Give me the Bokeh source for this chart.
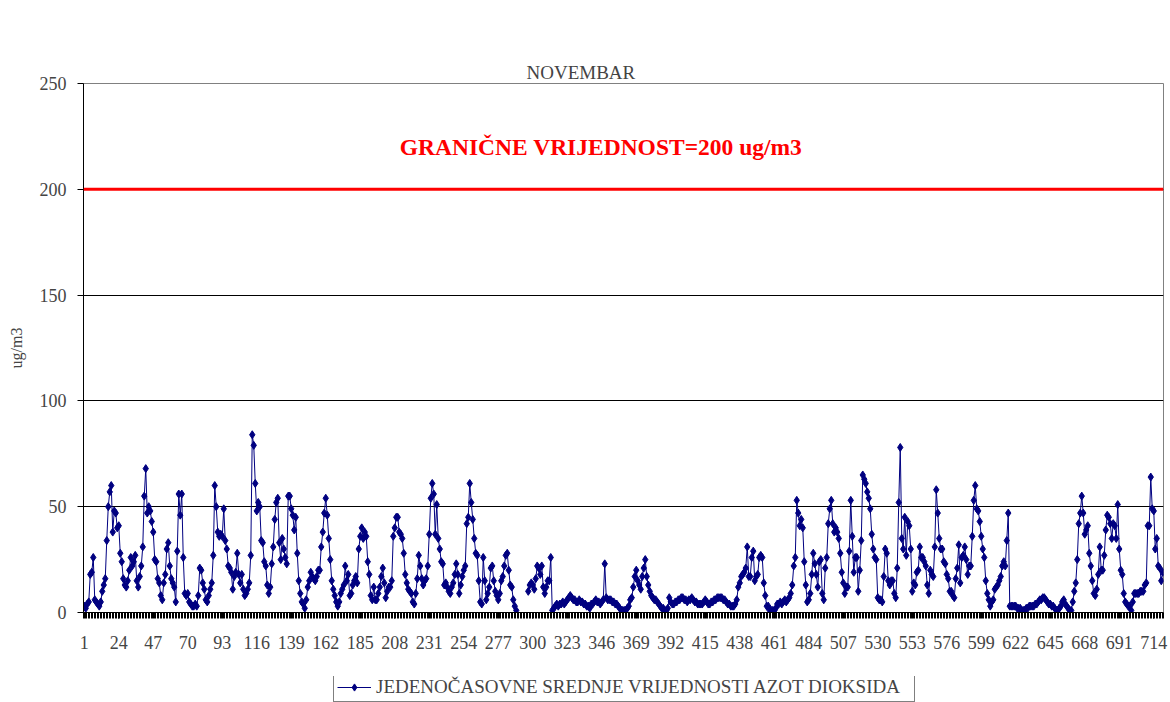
import numpy as np
from bokeh.plotting import figure
from bokeh.layouts import column
from bokeh.models import (Range1d, FixedTicker, Span, Label, Legend, LegendItem,
                          ColumnDataSource, LinearAxis)
from bokeh.embed import file_html
from bokeh.resources import INLINE

title_text = "NOVEMBAR"
series_name = "JEDENOČASOVNE SREDNJE VRIJEDNOSTI AZOT DIOKSIDA"
limit_text = "GRANIČNE VRIJEDNOST=200 ug/m3"
limit_value = 200
y_label = "ug/m3"
y_ticks = [0, 50, 100, 150, 200, 250]
x_tick_labels = [1, 24, 47, 70, 93, 116, 139, 162, 185, 208, 231, 254, 277, 300, 323, 346,
                 369, 392, 415, 438, 461, 484, 507, 530, 553, 576, 599, 622, 645, 668, 691, 714]

# hourly NO2 values for November, one row per day (None = missing hour)
day01 = [3, 2, 4, 5, 18, 19, 26, 6, 5, 4, 3, 5, 10, 13, 16, 34, 50, 57, 60, 38, 48, 47, 40, 41]
day02 = [28, 24, 16, 13, 12, 15, 20, 26, 22, 24, 27, 15, 12, 17, 22, 31, 55, 68, 47, 50, 48, 43, 38, 25]
day03 = [24, 16, 14, 8, 6, 14, 18, 30, 33, 22, 16, 14, 12, 5, 29, 56, 46, 56, 26, 9, 8, 9, 5, 4]
day04 = [3, 3, 4, 3, 8, 21, 20, 14, 11, 6, 5, 8, 11, 14, 27, 60, 50, 38, 36, 37, 36, 49, 34, 30]
day05 = [22, 21, 19, 11, 17, 19, 28, 18, 14, 18, 11, 8, 9, 11, 14, 27, 84, 79, 61, 48, 52, 50, 34, 33]
day06 = [24, 22, 13, 9, 12, 23, 31, 44, 52, 54, 33, 25, 35, 30, 26, 23, 55, 55, 49, 46, 39, 45, 28, 15]
day07 = [9, 5, 4, 2, 6, 12, 15, 19, 17, 16, 15, 17, 20, 20, 31, 38, 47, 54, 46, 35, 25, 15, 11, 8]
day08 = [5, 3, 5, 9, 11, 13, 22, 15, 18, 8, 9, 13, 15, 17, 14, 30, 36, 40, 35, 38, 36, 24, 18, 8]
day09 = [6, 12, 6, 6, 9, 12, 17, 21, 14, 7, 10, 12, 12, 15, 36, 40, 45, 45, 38, 37, 35, 28, 18, 14]
day10 = [11, 10, 9, 5, 4, 9, 16, 27, 22, 16, 13, 15, 16, 22, 37, 54, 61, 56, 37, 51, 35, 30, 24, 23]
day11 = [13, 14, 12, 10, 9, 12, 14, 18, 23, 18, 9, 13, 17, 20, 22, 42, 45, 61, 52, 44, 35, 28, 27, 15]
day12 = [5, 4, 26, 15, 6, 9, 12, 21, 22, 15, 10, 8, 6, 9, 15, 17, 22, 27, 28, 20, 13, 12, 6, 3]
day13 = [1, None, None, None, None, None, None, None, 10, 13, 14, 13, 11, 16, 22, 21, 18, 22, 12, 9, 12, 15, 15, 26]
day14 = [1, 2, 3, 4, 3, 4, 4, 5, 4, 5, 6, 7, 8, 7, 6, 6, 5, 5, 6, 5, 5, 4, 4, 3]
day15 = [3, 2, 4, 4, 5, 6, 5, 5, 4, 5, 6, 23, 7, 6, 6, 6, 5, 5, 4, 4, 3, 2, 1, 1]
day16 = [1, 1, 2, 3, 6, 7, 12, 17, 20, 15, 13, 11, 17, 21, 25, 17, 13, 10, 8, 7, 6, 6, 5, 4]
day17 = [3, 2, 2, 1, 1, 2, 7, 5, 4, 4, 5, 5, 6, 6, 7, 7, 6, 6, 5, 6, 6, 7, 6, 5]
day18 = [5, 4, 4, 4, 4, 5, 6, 5, 4, 4, 5, 5, 6, 6, 7, 7, 7, 7, 6, 6, 5, 4, 4, 3]
day19 = [3, 3, 4, 6, 12, 14, 17, 18, 19, 21, 31, 17, 17, 26, 29, 15, 17, 18, 26, 27, 26, 14, 8, 3]
day20 = [3, 1, 1, 1, 1, 2, 4, 4, 5, 4, 5, 6, 5, 6, 7, 9, 13, 22, 26, 53, 47, 41, 44, 40]
day21 = [24, 13, 5, 6, 9, 18, 28, 23, 18, 12, 24, 25, 9, 6, 21, 26, 42, 49, 53, 42, 38, 40, 38, 35]
day22 = [28, 19, 14, 9, 12, 12, 29, 53, 36, 19, 26, 26, 10, 20, 34, 65, 63, 61, 57, 54, 49, 37, 30, 26]
day23 = [25, 7, 6, 6, 5, 17, 30, 28, 15, 13, 15, 15, 9, 7, 21, 52, 78, 35, 30, 45, 27, 43, 41, 30]
day24 = [10, 14, 13, 19, 20, 31, 26, 26, 24, 22, 13, 9, 20, 18, 17, 31, 58, 47, 35, 30, 30, 24, 23, 18]
day25 = [16, 10, 10, 8, 7, 16, 21, 32, 14, 26, 27, 31, 25, 18, 22, 22, 36, 53, 60, 49, 48, 43, 36, 30]
day26 = [26, 15, 9, 6, 3, 5, 6, 11, 12, 13, 15, 17, 22, 24, 22, 34, 47, 3, 3, 3, 3, 3, 2, 2]
day27 = [2, 1, 1, 1, 2, 2, 3, 3, 3, 3, 4, 4, 5, 6, 6, 7, 7, 6, 5, 4, 4, 3, 3, 2]
day28 = [1, 1, 2, 3, 5, 6, 4, 3, 2, 1, 1, 5, 10, 14, 25, 42, 47, 55, 47, 37, 39, 41, 28, 22]
day29 = [15, 9, 8, 11, 18, 31, 20, 20, 27, 39, 46, 45, 42, 35, 42, 41, 35, 51, 30, 20, 18, 9, 5, 4]
day30 = [3, 3, 1, 5, 9, 9, 9, 9, 10, 10, 10, 13, 14, 41, 41, 64, 49, 48, 30, 35, 22, 21, 15, 19]

days = [day01, day02, day03, day04, day05, day06, day07, day08, day09, day10,
        day11, day12, day13, day14, day15, day16, day17, day18, day19, day20,
        day21, day22, day23, day24, day25, day26, day27, day28, day29, day30]
values = [np.nan if v is None else float(v) for d in days for v in d]
hours = list(range(1, len(values) + 1))

FONT = "Liberation Serif"
NAVY = "#000080"

p = figure(width=1168, height=676,
           x_range=Range1d(0.5, len(values) + 0.5), y_range=Range1d(0, 250),
           output_backend="svg", toolbar_location=None,
           min_border_left=83, min_border_right=5, min_border_top=83, min_border_bottom=64,
           background_fill_color="white", border_fill_color="white")

xa = p.below[0]   # the real x axis
ya = p.left[0]    # the real y axis

# spacer axis on top (no ticks, no line) so that the title sits high above the frame
spacer = LinearAxis(ticker=FixedTicker(ticks=[]), axis_line_color=None,
                    major_tick_line_color="white", minor_tick_line_color=None,
                    major_tick_out=55, major_tick_in=0, minor_tick_out=0, minor_tick_in=0,
                    major_label_standoff=0)
p.add_layout(spacer, "above")

p.title.text = title_text
p.title.text_font = FONT
p.title.text_font_size = "19px"
p.title.text_font_style = "normal"
p.title.align = "left"
p.title.offset = 443
p.title.standoff = 2

p.outline_line_color = "#808080"
p.outline_line_width = 1

# grid
p.xgrid.visible = False
p.ygrid.ticker = FixedTicker(ticks=[t for t in y_ticks if 0 < t < 250])
p.ygrid.grid_line_color = "black"
p.ygrid.grid_line_width = 1

# y axis
ya.ticker = FixedTicker(ticks=y_ticks)
ya.axis_label = y_label
ya.axis_label_text_font = FONT
ya.axis_label_text_font_style = "normal"
ya.axis_label_text_font_size = "16px"
ya.axis_label_standoff = 12
ya.major_label_text_font = FONT
ya.major_label_text_font_size = "18px"
ya.major_tick_out = 6
ya.major_tick_in = 0
ya.minor_tick_line_color = None
ya.major_label_standoff = 11
ya.axis_line_color = "black"

# x axis
xa.ticker = FixedTicker(ticks=x_tick_labels,
                        minor_ticks=[h - 0.5 for h in hours] + [len(values) + 0.5])
xa.major_label_text_font = FONT
xa.major_label_text_font_size = "18px"
xa.major_tick_out = 6
xa.major_tick_in = 0
xa.minor_tick_out = 6
xa.minor_tick_in = 0
xa.minor_tick_line_color = "black"
xa.major_label_standoff = 17
xa.axis_line_color = "black"

# limit line
p.add_layout(Span(location=limit_value, dimension="width", line_color="#FF0000", line_width=3))
p.add_layout(Label(x=345.5, y=220, text=limit_text, text_align="center", text_baseline="middle",
                   text_color="#FF0000", text_font=FONT, text_font_style="bold",
                   text_font_size="23.5px"))

src = ColumnDataSource(data=dict(h=hours, v=values))
ln = p.line("h", "v", source=src, line_color=NAVY, line_width=1)
sc = p.scatter("h", "v", source=src, marker="diamond", size=8,
               fill_color=NAVY, line_color=NAVY)

# legend strip below the chart; the series is re-used there only as legend key
# (its ranges are chosen so that no data falls inside this strip)
lf = figure(width=1168, height=26, x_range=Range1d(-2, -1), y_range=Range1d(-2, -1),
            output_backend="svg", toolbar_location=None,
            x_axis_type=None, y_axis_type=None,
            min_border_left=83, min_border_right=5, min_border_top=0, min_border_bottom=0,
            background_fill_color="white", border_fill_color="white")
lf.grid.visible = False
lf.outline_line_color = None
k_ln = lf.line("h", "v", source=src, line_color=NAVY, line_width=1)
k_sc = lf.scatter("h", "v", source=src, marker="diamond", size=8,
                  fill_color=NAVY, line_color=NAVY)
legend = Legend(items=[LegendItem(label=series_name, renderers=[k_ln, k_sc])],
                location=(250, 0), orientation="horizontal",
                label_text_font=FONT, label_text_font_size="19px",
                border_line_color="black", border_line_width=1,
                background_fill_color="white", background_fill_alpha=1,
                glyph_width=34, glyph_height=18, label_standoff=5, label_width=535,
                padding=3, spacing=0, margin=0)
lf.add_layout(legend, "center")

layout = column(p, lf, spacing=0)
open("out.html", "w").write(file_html(layout, INLINE))
